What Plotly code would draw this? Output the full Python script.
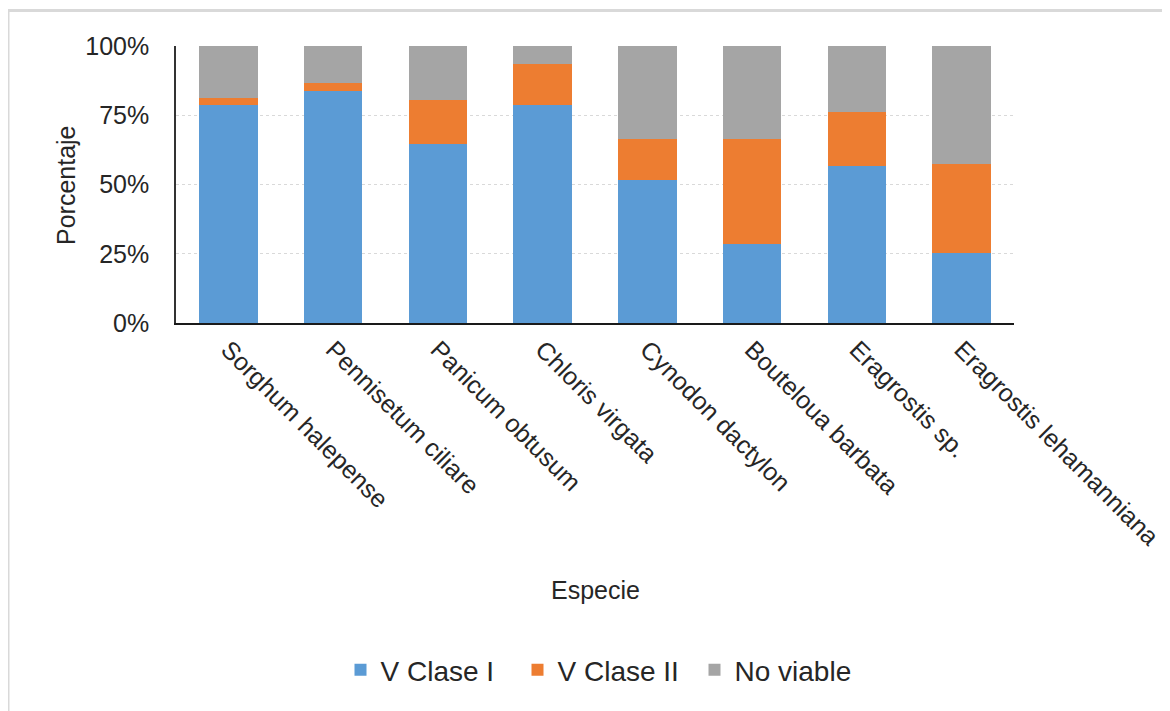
import plotly.graph_objects as go

especies = ["Sorghum halepense", "Pennisetum ciliare", "Panicum obtusum", "Chloris virgata",
            "Cynodon dactylon", "Bouteloua barbata", "Eragrostis sp.", "Eragrostis lehamanniana"]
v_clase_1 = [78.7, 83.9, 64.6, 78.8, 51.6, 28.5, 56.8, 25.2]
v_clase_2 = [2.4, 2.9, 16.0, 14.8, 14.8, 37.9, 19.4, 32.2]
no_viable = [18.9, 13.2, 19.4, 6.4, 33.6, 33.6, 23.8, 42.6]

OFF = 8  # page body margin
W, H = 1170 - OFF, 711 - OFF
# plot area in screen pixels
SL, SR, ST, SB = 176, 1014, 46, 323
L, R, T, B = SL - OFF, SR - OFF, ST - OFF, SB - OFF

def px(x):  # screen x -> paper
    return (x - SL) / (SR - SL)

def py(y):  # screen y -> paper
    return (SB - y) / (SB - ST)

font = "Liberation Sans, Arial, sans-serif"
txt = "#262626"

fig = go.Figure()
for name, vals, col in [("V Clase I", v_clase_1, "#5B9BD5"),
                        ("V Clase II", v_clase_2, "#ED7D31"),
                        ("No viable", no_viable, "#A5A5A5")]:
    fig.add_trace(go.Bar(x=especies, y=[v / 100 for v in vals], name=name,
                         marker=dict(color=col, line=dict(width=0))))

fig.update_layout(
    width=W, height=H,
    barmode="stack", bargap=0.44,
    paper_bgcolor="white", plot_bgcolor="white",
    margin=dict(l=L, r=W - R, t=T, b=H - B, autoexpand=False),
    font=dict(family=font, size=25, color=txt),
    showlegend=True,
    legend=dict(orientation="h", x=px(606), xanchor="center", y=py(670), yanchor="middle",
                font=dict(size=28, color=txt), traceorder="normal", itemwidth=30,
                entrywidth=132, entrywidthmode="pixels"),
    xaxis=dict(tickangle=45, tickfont=dict(size=25, color=txt), showline=True,
               linecolor="#1a1a1a", linewidth=2, ticks="", showgrid=False),
    yaxis=dict(range=[0, 1], tickvals=[0, 0.25, 0.5, 0.75, 1], tickformat=".0%",
               tickfont=dict(size=25, color=txt), showline=True, linecolor="#333333",
               linewidth=1.5, showgrid=True, gridcolor="#d9d9d9", griddash="dot",
               gridwidth=1, ticks="", zeroline=False, ticklabelstandoff=20),
    annotations=[
        dict(text="Especie", x=px(595), y=py(590), xref="paper", yref="paper",
             showarrow=False, font=dict(size=25, color=txt), xanchor="center", yanchor="middle"),
        dict(text="Porcentaje", x=px(66), y=py(185), xref="paper", yref="paper",
             showarrow=False, textangle=-90, font=dict(size=25, color=txt),
             xanchor="center", yanchor="middle"),
    ],
    shapes=[
        dict(type="line", xref="paper", yref="paper", x0=px(6), x1=px(1170), y0=py(10.5), y1=py(10.5),
             line=dict(color="#d9d9d9", width=3)),
        dict(type="line", xref="paper", yref="paper", x0=px(8.5), x1=px(8.5), y0=py(9), y1=py(711),
             line=dict(color="#d9d9d9", width=2)),
    ],
)

fig.write_html("out.html")
